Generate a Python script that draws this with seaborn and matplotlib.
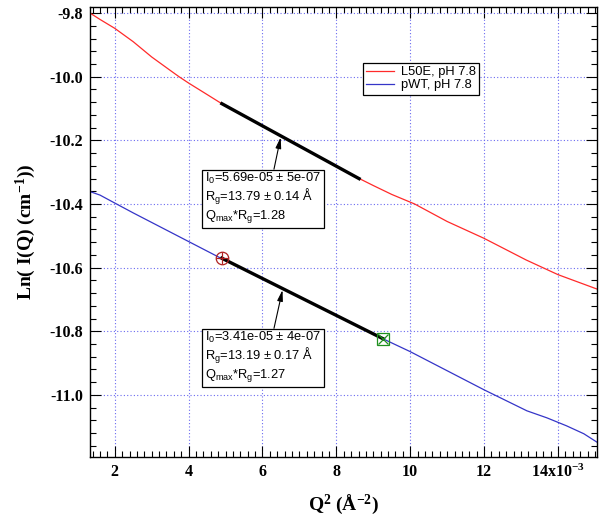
import numpy as np
import pandas as pd
import seaborn as sns
import matplotlib
matplotlib.use('Agg')
import matplotlib.pyplot as plt
from matplotlib.ticker import MultipleLocator, FuncFormatter

# Guinier data: Q^2 in units of 1e-3 A^-2, Ln(I) in cm^-1
l50e_q2 = [1.33, 1.6, 2.0, 2.5, 3.0, 3.5, 3.74, 4.0, 4.5, 4.9, 5.5, 6.0, 7.0,
           8.0, 8.62, 9.0, 9.5, 10.12, 11.0, 12.0, 13.14, 14.0, 15.05]
l50e_lnI = [-9.800, -9.820, -9.848, -9.890, -9.938, -9.980, -10.000, -10.020,
            -10.056, -10.085, -10.123, -10.155, -10.218, -10.281, -10.320,
            -10.342, -10.370, -10.400, -10.455, -10.508, -10.576, -10.622, -10.667]

pwt_q2 = [1.33, 1.6, 2.0, 2.5, 3.0, 3.5, 4.0, 4.5, 4.9, 5.5, 6.0, 7.0, 8.0,
          9.27, 10.0, 11.0, 12.0, 13.16, 13.7, 14.23, 14.7, 15.05]
pwt_lnI = [-10.361, -10.372, -10.397, -10.428, -10.458, -10.488, -10.518,
           -10.548, -10.572, -10.605, -10.634, -10.692, -10.750, -10.824,
           -10.864, -10.924, -10.984, -11.050, -11.072, -11.097, -11.122, -11.148]

# Guinier fit results
samples = ['L50E, pH 7.8', 'pWT, pH 7.8']
i0 = [5.69e-05, 3.41e-05]
i0_err = [5e-07, 4e-07]
rg = [13.79, 13.19]
rg_err = [0.14, 0.17]
qmax_rg = [1.28, 1.27]
fit_q2_min = [4.9, 4.9]

colors = ['#ff2a2a', '#3535c8']

plt.rcParams['font.family'] = ['Liberation Serif', 'DejaVu Serif']
plt.rcParams['mathtext.default'] = 'regular'
plt.rcParams['axes.unicode_minus'] = False

df = pd.concat([
    pd.DataFrame({'q2': l50e_q2, 'lnI': l50e_lnI, 'sample': samples[0]}),
    pd.DataFrame({'q2': pwt_q2, 'lnI': pwt_lnI, 'sample': samples[1]}),
])

fig = plt.figure(figsize=(6.04, 5.19), dpi=100)
ax = fig.add_axes([0.149, 0.1195, 0.839, 0.867])

for name, c in zip(samples, colors):
    sub = df[df['sample'] == name]
    sns.lineplot(data=sub, x='q2', y='lnI', color=c, lw=0.9, label=name, ax=ax)


def fit_line(k):
    q2_max = (qmax_rg[k] / rg[k]) ** 2 * 1e3
    q2 = np.array([fit_q2_min[k], q2_max])
    return q2, np.log(i0[k]) - rg[k] ** 2 / 3 * q2 * 1e-3


for k in range(2):
    q2, ln = fit_line(k)
    sns.lineplot(x=q2, y=ln, color='black', lw=2.4, legend=False, ax=ax)

# cursors on pWT fit range
q2b, lnb = fit_line(1)
ax.plot(q2b[0], lnb[0], 'o', ms=9, mfc='none', mec='#b02020', mew=0.9)
ax.plot(q2b[0], lnb[0], '+', ms=9, mec='#b02020', mew=0.9)
ax.plot(q2b[1], lnb[1], 's', ms=8, mfc='none', mec='#209020', mew=0.9)
ax.plot(q2b[1], lnb[1], 'x', ms=7, mec='#209020', mew=0.9)

# annotation boxes
text_pos = [(4.45, -10.296), (4.45, -10.796)]
arrow_q2 = [6.5, 6.55]
for k in range(2):
    txt = (f'I$_0$={i0[k]:.2e} ± {i0_err[k]:.0e}\n'
           f'R$_g$={rg[k]:.2f} ± {rg_err[k]:.2f} Å\n'
           f'Q$_{{max}}$*R$_g$={qmax_rg[k]:.2f}')
    y_tip = np.log(i0[k]) - rg[k] ** 2 / 3 * arrow_q2[k] * 1e-3
    ax.annotate(txt, xy=(arrow_q2[k], y_tip), xytext=text_pos[k],
                ha='left', va='top', fontsize=9.3, family='Liberation Sans',
                linespacing=1.08,
                bbox=dict(boxstyle='square,pad=0.25', fc='white', ec='black', lw=0.9),
                arrowprops=dict(arrowstyle='-|>,head_length=0.7,head_width=0.18',
                                color='black', lw=0.8, relpos=(0.59, 1.0),
                                shrinkA=0, shrinkB=1))

ax.set_xlim(1.33, 15.05)
ax.set_ylim(-11.195, -9.781)

ax.xaxis.set_major_locator(MultipleLocator(2))
ax.xaxis.set_minor_locator(MultipleLocator(0.2))
ax.yaxis.set_major_locator(MultipleLocator(0.2))
ax.yaxis.set_minor_locator(MultipleLocator(0.04))
ax.xaxis.set_major_formatter(FuncFormatter(
    lambda v, p: '14x10$^{-3}$' if round(v) == 14 else f'{v:.0f}'))
ax.yaxis.set_major_formatter(FuncFormatter(lambda v, p: f'{v:.1f}'))

ax.tick_params(which='both', direction='in', top=True, right=True, width=0.8)
ax.tick_params(which='major', length=8, labelsize=11.5, pad=5)
ax.tick_params(which='minor', length=4)
for lab in ax.get_xticklabels() + ax.get_yticklabels():
    lab.set_fontweight('bold')

ax.grid(True, which='major', color='#6a6af0', lw=0.8, ls=(0, (1, 2)))
for s in ax.spines.values():
    s.set_linewidth(1.0)

ax.set_xlabel('Q$^2$ (Å$^{-2}$)', fontsize=14, fontweight='bold', labelpad=8)
ax.set_ylabel('Ln( I(Q) (cm$^{-1}$))', fontsize=14, fontweight='bold', labelpad=8)

leg = ax.legend(loc='upper left', bbox_to_anchor=(0.538, 0.876), fontsize=9.3,
                frameon=True, fancybox=False, framealpha=1, edgecolor='black',
                handlelength=2.2, borderpad=0.25, labelspacing=0.1,
                handletextpad=0.5, borderaxespad=0)
leg.get_frame().set_linewidth(0.9)
for t in leg.get_texts():
    t.set_family('Liberation Sans')

fig.savefig('out.png', dpi=100)
